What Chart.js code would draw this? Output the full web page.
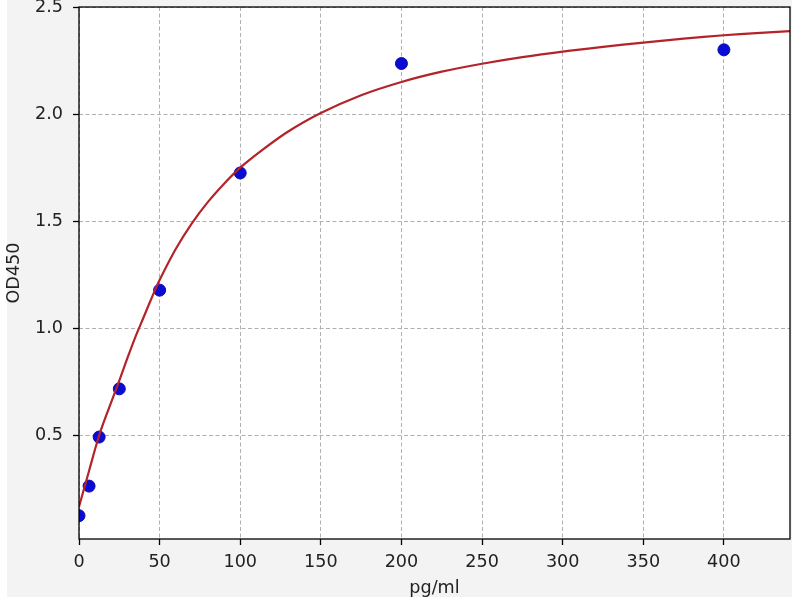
<!DOCTYPE html>
<html>
<head>
<meta charset="utf-8">
<script src="https://cdn.jsdelivr.net/npm/chart.js@4/dist/chart.umd.min.js"></script>
<style>
  html, body { margin: 0; padding: 0; background: #ffffff; }
  #wrap { width: 800px; height: 600px; }
</style>
</head>
<body>
<div id="wrap"><canvas id="c" width="800" height="600"></canvas></div>
<script>
// Measured standards
const stdConc = [0, 6.25, 12.5, 25, 50, 100, 200, 400];
const stdOD   = [0.125, 0.263, 0.492, 0.717, 1.178, 1.725, 2.236, 2.30];

// Fitted curve
const curveConc = [0, 2, 4, 6, 8, 10, 12.5, 15, 20, 25, 30, 35, 40, 45, 50, 60, 70, 80, 90, 100, 115, 130, 150, 175, 200, 225, 250, 275, 300, 325, 350, 375, 400, 420, 441];
const curveOD   = [0.167, 0.22, 0.274, 0.328, 0.382, 0.436, 0.50, 0.555, 0.655, 0.755, 0.86, 0.96, 1.05, 1.14, 1.225, 1.37, 1.49, 1.59, 1.675, 1.75, 1.84, 1.92, 2.005, 2.088, 2.15, 2.198, 2.235, 2.266, 2.292, 2.314, 2.334, 2.352, 2.368, 2.378, 2.387];

// Axis ticks
const xTicks = [0, 50, 100, 150, 200, 250, 300, 350, 400];
const yTicks = [0.5, 1.0, 1.5, 2.0, 2.5];
const xRange = [0, 441];
const yRange = [0.016, 2.5];
const xTitle = 'pg/ml';
const yTitle = 'OD450';

const FONT = 'DejaVu Sans';
const FS = 17.6;

const bgPlugin = {
  id: 'bg',
  beforeDraw(chart) {
    const ctx = chart.ctx;
    ctx.save();
    ctx.fillStyle = '#ffffff';
    ctx.fillRect(0, 0, chart.width, chart.height);
    ctx.fillStyle = '#f3f3f3';
    ctx.fillRect(7, 0, 785, 597);
    const a = chart.chartArea;
    ctx.fillStyle = '#ffffff';
    ctx.fillRect(a.left, a.top, a.right - a.left, a.bottom - a.top);
    ctx.restore();
  },
  afterDraw(chart) {
    const ctx = chart.ctx;
    const a = chart.chartArea;
    ctx.save();
    ctx.strokeStyle = '#000000';
    ctx.lineWidth = 1.3;
    ctx.setLineDash([]);
    ctx.strokeRect(a.left, a.top, a.right - a.left, a.bottom - a.top);
    ctx.restore();
  }
};

new Chart(document.getElementById('c'), {
  type: 'scatter',
  data: {
    datasets: [
      {
        label: 'fit',
        data: curveConc.map((x, i) => ({ x: x, y: curveOD[i] })),
        showLine: true,
        borderColor: '#b3232a',
        borderWidth: 2.2,
        pointRadius: 0,
        tension: 0.3,
        fill: false,
        order: 0
      },
      {
        label: 'standards',
        data: stdConc.map((x, i) => ({ x: x, y: stdOD[i] })),
        showLine: false,
        backgroundColor: '#0b0bd6',
        borderColor: '#0b0bb0',
        borderWidth: 1,
        pointRadius: 6,
        order: 1
      }
    ]
  },
  options: {
    responsive: false,
    animation: false,
    devicePixelRatio: 1,
    layout: { padding: { left: 0, right: 10, top: 6, bottom: 0 } },
    plugins: {
      legend: { display: false },
      tooltip: { enabled: false },
      title: { display: false }
    },
    scales: {
      x: {
        type: 'linear',
        min: xRange[0],
        max: xRange[1],
        afterBuildTicks: s => { s.ticks = xTicks.map(v => ({ value: v })); },
        afterFit: s => { s.height = 61; s.paddingLeft = 0; s.paddingRight = 0; },
        grid: {
          color: '#b0b0b0',
          lineWidth: 1,
          drawTicks: true,
          tickLength: 6,
          tickColor: '#000000',
          tickWidth: 1.3
        },
        border: { display: false, dash: [4, 2.5] },
        ticks: {
          color: '#222222',
          font: { family: FONT, size: FS },
          padding: 7,
          maxRotation: 0,
          callback: v => String(v)
        },
        title: {
          display: true,
          text: xTitle,
          color: '#222222',
          font: { family: FONT, size: FS },
          padding: { top: 0, bottom: 1 }
        }
      },
      y: {
        type: 'linear',
        min: yRange[0],
        max: yRange[1],
        afterBuildTicks: s => { s.ticks = yTicks.map(v => ({ value: v })); },
        afterFit: s => { s.width = 79; s.paddingTop = 0; s.paddingBottom = 0; },
        grid: {
          color: '#b0b0b0',
          lineWidth: 1,
          drawTicks: true,
          tickLength: 6,
          tickColor: '#000000',
          tickWidth: 1.3
        },
        border: { display: false, dash: [4, 2.5] },
        ticks: {
          color: '#222222',
          font: { family: FONT, size: FS },
          padding: 10,
          callback: v => Number(v).toFixed(1)
        },
        title: {
          display: true,
          text: yTitle,
          color: '#222222',
          font: { family: FONT, size: FS },
          padding: { top: 4, bottom: 0 }
        }
      }
    }
  },
  plugins: [bgPlugin]
});
</script>
</body>
</html>
